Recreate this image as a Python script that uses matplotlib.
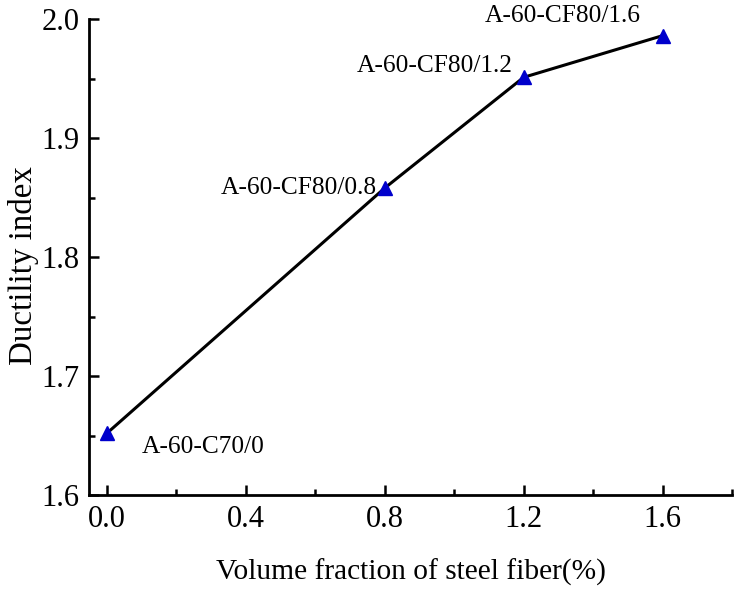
import matplotlib.pyplot as plt
from matplotlib.ticker import MultipleLocator

# data
fiber = [0.0, 0.8, 1.2, 1.6]
ductility = [1.652, 1.858, 1.951, 1.986]
names = ['A-60-C70/0', 'A-60-CF80/0.8', 'A-60-CF80/1.2', 'A-60-CF80/1.6']

plt.rcParams['font.family'] = ['Liberation Serif', 'DejaVu Serif']

fig = plt.figure(figsize=(7.43, 5.93), dpi=100)
ax = fig.add_axes([89/743, 98/593, (732-89)/743, (495-19)/593])

ax.plot(fiber, ductility, color='black', lw=2.2, zorder=2)
ax.plot(fiber, ductility, ls='none', marker='^', ms=10, color='#0000cc', zorder=3)

# point labels
offsets = [(25, -10, 'left'), (-6, 0, 'right'), (-8, 8, 'right'), (-16, 14, 'right')]
for x, y, s, (dx, dy, ha) in zip(fiber, ductility, names, offsets):
    ax.annotate(s, (x, y), xytext=(dx, dy), textcoords='offset points',
                ha=ha, va='center', fontsize=18.3)

ax.set_xlim(-0.052, 1.80)
ax.set_ylim(1.6, 2.0)
ax.xaxis.set_major_locator(MultipleLocator(0.4))
ax.xaxis.set_minor_locator(MultipleLocator(0.2))
ax.yaxis.set_major_locator(MultipleLocator(0.1))
ax.yaxis.set_minor_locator(MultipleLocator(0.05))
ax.xaxis.set_major_formatter(lambda v, p: f'{v:.1f}')
ax.yaxis.set_major_formatter(lambda v, p: f'{v:.1f}')

ax.spines['top'].set_visible(False)
ax.spines['right'].set_visible(False)
for sp in ['left', 'bottom']:
    ax.spines[sp].set_linewidth(2)
ax.tick_params(which='both', direction='in', width=1.8, labelsize=22)
ax.tick_params(which='major', length=7, pad=7)
ax.tick_params(which='minor', length=4)

ax.set_xlabel('Volume fraction of steel fiber(%)', fontsize=21.2, labelpad=18)
ax.set_ylabel('Ductility index', fontsize=23.8)
ax.yaxis.set_label_coords(-0.078, 0.483)

fig.savefig('out.png', dpi=100)
